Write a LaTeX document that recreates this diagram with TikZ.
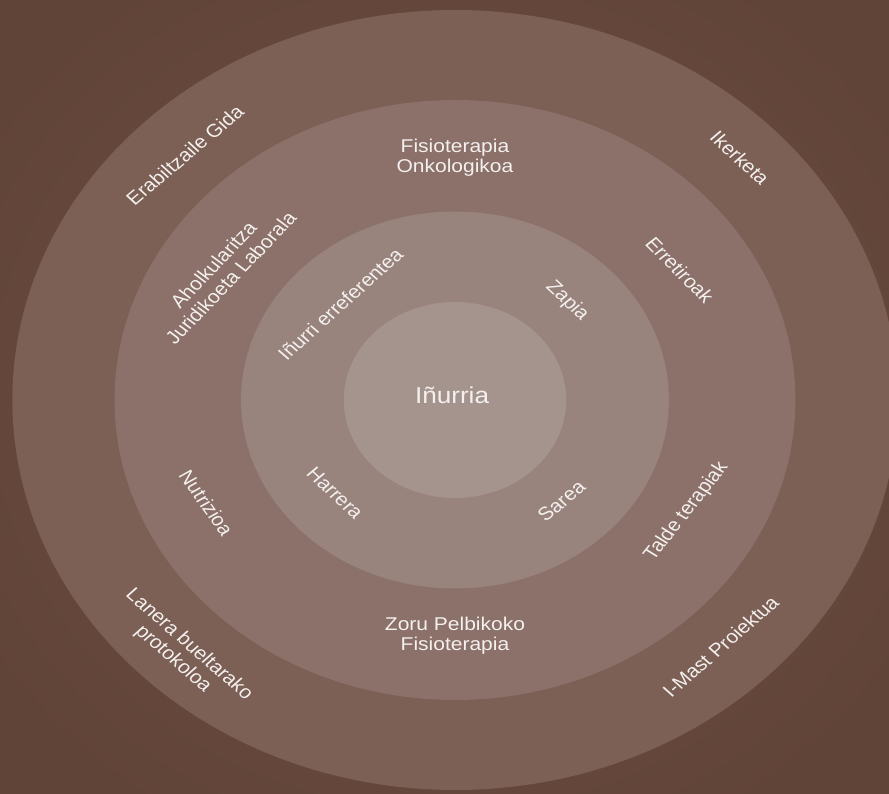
\documentclass[tikz,border=0pt]{standalone}
\usepackage{fontspec}
\setmainfont{Liberation Sans}
\definecolor{bgin}{RGB}{112,80,66}
\definecolor{bgout}{RGB}{97,68,56}
\definecolor{ringfour}{RGB}{124,95,85}
\definecolor{ringthree}{RGB}{139,113,105}
\definecolor{ringtwo}{RGB}{153,131,125}
\definecolor{ringone}{RGB}{165,147,142}
\definecolor{txt}{RGB}{243,240,238}
\tikzset{
  lbl/.style={transform shape, text=txt, font=\fontsize{18.5}{20}\selectfont, align=center, inner sep=0pt},
  bigl/.style={lbl, font=\fontsize{23}{26}\selectfont}
}
\begin{document}
\begin{tikzpicture}[x=1pt,y=1pt]
\useasboundingbox (0,0) rectangle (889,793);
\clip (0,0) rectangle (889,793);
\shade[inner color=bgin, outer color=bgout] (-100,-100) rectangle (989,893);
\begin{scope}[shift={(455,393)}, xscale=1.135]
  \fill[ringfour] (0,0) circle (390pt);
  \fill[ringthree] (0,0) circle (300pt);
  \fill[ringtwo] (0,0) circle (188.5pt);
  \fill[ringone] (0,0) circle (98pt);
  \node[bigl] (inurria) at (-2.6,5) {Iñurria};
  \node[lbl, rotate=45.5] (erref) at (-101,96) {Iñurri erreferentea};
  \node[lbl, rotate=-46.5] (zapia) at (98.7,99) {Zapia};
  \node[lbl, rotate=-46.5] (harrera) at (-105.7,-93) {Harrera};
  \node[lbl, rotate=42.6] (sarea) at (93.8,-101) {Sarea};
  \node[lbl] (fisonko) at (0,242) {Fisioterapia\\Onkologikoa};
  \node[lbl] (zoru) at (0,-235.5) {Zoru Pelbikoko\\ Fisioterapia};
  \node[lbl, rotate=49.6] (ahol) at (-205.3,128.5) {Aholkularitza\\Juridikoeta Laborala};
  \node[lbl, rotate=-48.6] (erret) at (198,130) {Erretiroak};
  \node[lbl, rotate=-57.7] (nutri) at (-219,-103) {Nutrizioa};
  \node[lbl, rotate=55.1] (talde) at (204,-111.5) {Talde terapiak};
  \node[lbl, rotate=43.6] (erabil) at (-238,245) {Erabiltzaile Gida};
  \node[lbl, rotate=-45.9] (iker) at (251,242) {Ikerketa};
  \node[lbl, rotate=-44.6] (lanera) at (-241.4,-252) {Lanera bueltarako\\protokoloa};
  \node[lbl, rotate=44.6] (imast) at (234,-246.5) {I-Mast Proiektua};
\end{scope}
\end{tikzpicture}
\end{document}
